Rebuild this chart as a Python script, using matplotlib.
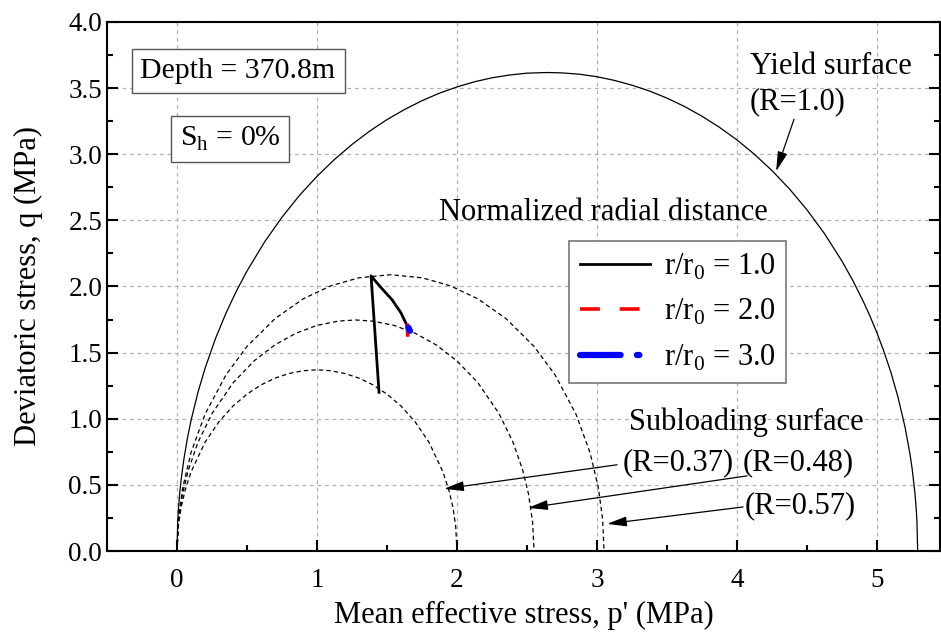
import numpy as np
import matplotlib.pyplot as plt
from matplotlib.ticker import MultipleLocator

# yield surface (R = 1.0)
yield_p = [0.0, 0.005, 0.01, 0.02, 0.03, 0.05, 0.075, 0.1, 0.15, 0.2, 0.275, 0.35, 0.425,
           0.5, 0.625, 0.75, 0.875, 1.0, 1.125, 1.25, 1.375, 1.5, 1.625, 1.75, 1.875, 2.0,
           2.125, 2.25, 2.375, 2.5, 2.645, 2.75, 2.875, 3.0, 3.125, 3.25, 3.375, 3.5, 3.625,
           3.75, 3.875, 4.0, 4.125, 4.25, 4.375, 4.5, 4.625, 4.75, 4.825, 4.9, 4.95, 5.0,
           5.05, 5.1, 5.15, 5.2, 5.235, 5.25, 5.27, 5.28, 5.285, 5.29]
yield_q = [0.0, 0.222, 0.314, 0.444, 0.543, 0.700, 0.856, 0.986, 1.201, 1.380, 1.607,
           1.799, 1.967, 2.117, 2.336, 2.524, 2.689, 2.833, 2.961, 3.074, 3.174, 3.262,
           3.338, 3.405, 3.462, 3.509, 3.548, 3.578, 3.599, 3.613, 3.618, 3.615, 3.605,
           3.586, 3.558, 3.522, 3.478, 3.424, 3.361, 3.287, 3.203, 3.108, 2.999, 2.876,
           2.737, 2.579, 2.399, 2.191, 2.049, 1.891, 1.775, 1.647, 1.506, 1.347, 1.162,
           0.936, 0.734, 0.627, 0.444, 0.314, 0.222, 0.0]

# subloading surfaces
sub37_p = [0.0, 0.01, 0.03, 0.06, 0.1, 0.2, 0.3, 0.4, 0.5, 0.6, 0.7, 0.8, 0.9, 1.0,
           1.1, 1.2, 1.3, 1.4, 1.5, 1.6, 1.7, 1.8, 1.9, 1.94, 1.97, 1.99, 2.0]
sub37_q = [0.0, 0.193, 0.333, 0.467, 0.597, 0.822, 0.978, 1.096, 1.186, 1.256, 1.307,
           1.342, 1.363, 1.370, 1.363, 1.342, 1.307, 1.256, 1.186, 1.096, 0.978, 0.822,
           0.597, 0.467, 0.333, 0.193, 0.0]

sub48_p = [0.0, 0.01, 0.04, 0.08, 0.15, 0.25, 0.4, 0.55, 0.7, 0.85, 1.0, 1.15, 1.275,
           1.4, 1.55, 1.7, 1.85, 2.0, 2.15, 2.3, 2.4, 2.47, 2.51, 2.54, 2.55]
sub48_q = [0.0, 0.218, 0.434, 0.609, 0.822, 1.039, 1.271, 1.437, 1.559, 1.647, 1.706,
           1.738, 1.747, 1.738, 1.706, 1.647, 1.559, 1.437, 1.271, 1.039, 0.822, 0.609,
           0.434, 0.218, 0.0]

sub57_p = [0.0, 0.01, 0.04, 0.1, 0.2, 0.35, 0.5, 0.7, 0.9, 1.1, 1.3, 1.525, 1.75, 1.95,
           2.15, 2.35, 2.55, 2.7, 2.85, 2.95, 3.01, 3.04, 3.05]
sub57_q = [0.0, 0.239, 0.475, 0.744, 1.034, 1.332, 1.547, 1.757, 1.906, 2.006, 2.066,
           2.089, 2.066, 2.006, 1.906, 1.757, 1.547, 1.332, 1.034, 0.744, 0.475, 0.239, 0.0]

# stress paths for r/r0 = 1.0, 2.0, 3.0
path1_p = [1.443, 1.386, 1.45, 1.536, 1.60, 1.645, 1.66]
path1_q = [1.20, 2.08, 2.00, 1.90, 1.80, 1.70, 1.66]
path2_p = [1.645, 1.648]
path2_q = [1.72, 1.62]
path3_p = [1.652, 1.664]
path3_q = [1.69, 1.665]

plt.rcParams.update({
    "font.family": ["Liberation Serif", "DejaVu Serif"],
    "mathtext.fontset": "custom",
    "mathtext.rm": "Liberation Serif",
    "font.size": 20,
    "xtick.labelsize": 19.5,
    "ytick.labelsize": 19.5,
    "axes.linewidth": 1.5,
})

fig = plt.figure(figsize=(9.41, 6.39), dpi=100)
ax = fig.add_axes([0.1137, 0.1377, 0.8853, 0.8279])

dash_style = dict(color="black", linewidth=0.9, linestyle=(0, (3.5, 2.5)))
ax.plot(sub37_p, sub37_q, **dash_style)
ax.plot(sub48_p, sub48_q, **dash_style)
ax.plot(sub57_p, sub57_q, **dash_style)
ax.plot(yield_p, yield_q, color="black", linewidth=0.9)

ax.plot(path2_p, path2_q, color="red", linewidth=2.6, linestyle=(0, (5.5, 5.5)),
        label=r"r/r$_\mathregular{0}$ = 2.0", zorder=4)
ax.plot(path3_p, path3_q, color="blue", linewidth=4.5,
        linestyle=(0, (6.5, 2.6, 0.4, 2.6)),
        solid_capstyle="round", dash_capstyle="round",
        label=r"r/r$_\mathregular{0}$ = 3.0", zorder=5)
ax.plot(path1_p, path1_q, color="black", linewidth=2.0,
        label=r"r/r$_\mathregular{0}$ = 1.0", zorder=3)

handles, labels = ax.get_legend_handles_labels()
order = [2, 0, 1]
leg = ax.legend([handles[i] for i in order], [labels[i] for i in order],
                loc="upper left", bbox_to_anchor=(0.5546, 0.586), borderaxespad=0,
                fontsize=22, handlelength=2.3, handletextpad=0.45, labelspacing=0.5,
                borderpad=0.35, fancybox=False, framealpha=1, edgecolor="#777777")
leg.get_frame().set_linewidth(1.2)

ax.set_xlim(-0.5, 5.45)
ax.set_ylim(0, 4.0)
ax.xaxis.set_major_locator(MultipleLocator(1))
ax.xaxis.set_minor_locator(MultipleLocator(0.5))
ax.yaxis.set_major_locator(MultipleLocator(0.5))
ax.yaxis.set_minor_locator(MultipleLocator(0.25))
ax.yaxis.set_major_formatter(plt.FormatStrFormatter("%.1f"))
ax.tick_params(which="both", direction="in", right=True, top=False, width=1.5)
ax.tick_params(which="major", length=8)
ax.tick_params(which="minor", length=4)
ax.tick_params(axis="x", pad=12)
ax.grid(True, which="major", color="#b0b0b0", linestyle=(0, (3, 3)), linewidth=0.9)

ax.set_xlabel("Mean effective stress, p' (MPa)", fontsize=22, labelpad=6)
ax.set_ylabel("Deviatoric stress, q (MPa)", fontsize=22, labelpad=18)

box = dict(boxstyle="square,pad=0.3", facecolor="white", edgecolor="#555555", linewidth=1.0)
ax.text(0.436, 3.629, "Depth = 370.8m", ha="center", va="center", fontsize=21.5, bbox=box)
ax.text(0.379, 3.117, r"S$_\mathregular{h}$ = 0%", ha="center", va="center", fontsize=21.5,
        bbox=box)

ax.text(4.093, 3.667, "Yield surface", ha="left", va="center", fontsize=22)
ax.text(4.093, 3.394, "(R=1.0)", ha="left", va="center", fontsize=22)
ax.text(3.043, 2.561, "Normalized radial distance", ha="center", va="center", fontsize=22)
ax.text(4.064, 0.977, "Subloading surface", ha="center", va="center", fontsize=22)
ax.text(3.579, 0.667, "(R=0.37)", ha="center", va="center", fontsize=22)
ax.text(4.436, 0.667, "(R=0.48)", ha="center", va="center", fontsize=22)
ax.text(4.45, 0.341, "(R=0.57)", ha="center", va="center", fontsize=22)

arrow = dict(arrowstyle="-|>,head_length=0.6,head_width=0.15", color="black", lw=0.9,
             shrinkA=0, shrinkB=0)
ax.annotate("", xy=(4.279, 2.871), xytext=(4.407, 3.265), arrowprops=arrow)
ax.annotate("", xy=(1.907, 0.470), xytext=(3.143, 0.652), arrowprops=arrow)
ax.annotate("", xy=(2.507, 0.326), xytext=(4.071, 0.568), arrowprops=arrow)
ax.annotate("", xy=(3.071, 0.205), xytext=(4.043, 0.333), arrowprops=arrow)

fig.savefig("out.png", dpi=100)
